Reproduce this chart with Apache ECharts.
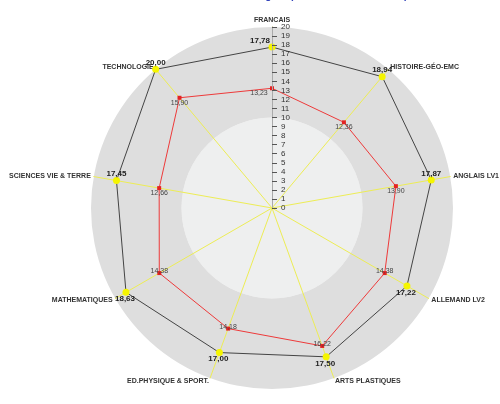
<!DOCTYPE html>
<html>
<head>
<meta charset="utf-8">
<style>html,body{margin:0;padding:0;background:#fff;}#c{width:500px;height:404px;}</style>
<script src="https://cdn.jsdelivr.net/npm/echarts@6/dist/echarts.min.js"></script>
</head>
<body>
<div id="c"></div>
<script>
// Subjects listed clockwise starting at the top
const subjects = ['FRANCAIS', 'HISTOIRE-GÉO-EMC', 'ANGLAIS LV1', 'ALLEMAND LV2', 'ARTS PLASTIQUES',
  'ED.PHYSIQUE & SPORT.', 'MATHEMATIQUES', 'SCIENCES VIE & TERRE', 'TECHNOLOGIE'];
const studentScores = [17.78, 18.94, 17.87, 17.22, 17.50, 17.00, 18.63, 17.45, 20.00];
const classScores = [13.23, 12.36, 13.90, 14.38, 16.22, 14.18, 14.38, 12.66, 15.90];
const scaleMin = 0;
const scaleMax = 20;
const scaleStep = 1;
const headerTexts = ['DE LONE1AM', 'Anglais pour la communication professionnelle niveau'];

// ECharts radar runs counter-clockwise: reorder so that subjects run clockwise
const order = [0, 8, 7, 6, 5, 4, 3, 2, 1];
const re = arr => order.map(i => arr[i]);
const upper = [1, 2, 7, 8];
const lower = [3, 4, 5, 6];
const top0 = [0];
const fmt = v => Number(v).toFixed(2).replace('.', ',');

function labelSeries(values, group, pos, dist, offset, style) {
  return {
    type: 'radar', silent: true, z: 5,
    symbol: 'circle', symbolSize: 1,
    lineStyle: { opacity: 0 },
    itemStyle: { color: 'rgba(0,0,0,0)' },
    label: Object.assign({
      show: true, position: pos, distance: dist, offset: offset,
      formatter: p => {
        const v = Array.isArray(p.value) ? null : p.value;
        const i = values.indexOf(v);
        return group.indexOf(i) >= 0 ? fmt(v) : '';
      }
    }, style),
    data: [{ value: re(values) }]
  };
}

const blackLbl = { color: '#222', fontSize: 8, fontWeight: 'bold', fontFamily: 'Liberation Sans' };
const redLbl = { color: '#444', fontSize: 7, fontFamily: 'Liberation Sans' };

const chart = echarts.init(document.getElementById('c'));
chart.setOption({
  animation: false,
  graphic: [
    { type: 'text', left: 186, top: -9, style: { text: headerTexts[0], fill: '#6677bb', font: '10px "Liberation Sans"' } },
    { type: 'text', left: 252, top: -9, style: { text: headerTexts[1], fill: '#3344bb', font: 'bold 10px "Liberation Sans"' } }
  ],
  radar: {
    center: [272, 208], radius: 181, startAngle: 90, shape: 'circle', splitNumber: 2,
    indicator: re(subjects).map(n => ({ name: n, min: scaleMin, max: scaleMax })),
    nameGap: 3,
    axisName: { color: '#333', fontSize: 7, fontWeight: 'bold', fontFamily: 'Liberation Sans' },
    axisLine: { lineStyle: { color: '#eded55', width: 1 } },
    splitLine: { show: false },
    splitArea: { show: true, areaStyle: { color: ['#eeefef', '#dedede'] } },
    axisTick: { show: false }, axisLabel: { show: false }
  },
  polar: { center: [272, 208], radius: 181 },
  angleAxis: { type: 'value', min: 0, max: 360, startAngle: 90, show: false },
  radiusAxis: {
    min: scaleMin, max: scaleMax, interval: scaleStep, z: 10,
    axisLine: { show: true, lineStyle: { color: '#aaa', width: 1 } },
    axisTick: { show: true, length: -5, lineStyle: { color: '#555' } },
    axisLabel: { show: true, fontSize: 8, color: '#333', margin: -9, align: 'left', fontFamily: 'Liberation Sans' },
    splitLine: { show: false }, splitArea: { show: false }
  },
  series: [
    {
      type: 'radar', z: 3,
      symbol: 'circle', symbolSize: 7,
      lineStyle: { color: '#444', width: 1 },
      itemStyle: { color: '#f5f500' },
      data: [{ value: re(studentScores), name: 'élève' }]
    },
    {
      type: 'radar', z: 4,
      symbol: 'rect', symbolSize: 4,
      lineStyle: { color: '#ee3a3a', width: 1 },
      itemStyle: { color: '#e32222' },
      data: [{ value: re(classScores), name: 'classe' }]
    },
    labelSeries(studentScores, upper, 'top', 2, [0, 0], blackLbl),
    labelSeries(studentScores, top0, 'top', 2, [-12, 0], blackLbl),
    labelSeries(studentScores, lower, 'bottom', 2, [-1, 0], blackLbl),
    labelSeries(classScores, upper, 'bottom', 1, [0, 0], redLbl),
    labelSeries(classScores, top0, 'bottom', 1, [-13, 0], redLbl),
    labelSeries(classScores, lower, 'top', -2, [0, 0], redLbl)
  ]
});
</script>
</body>
</html>
